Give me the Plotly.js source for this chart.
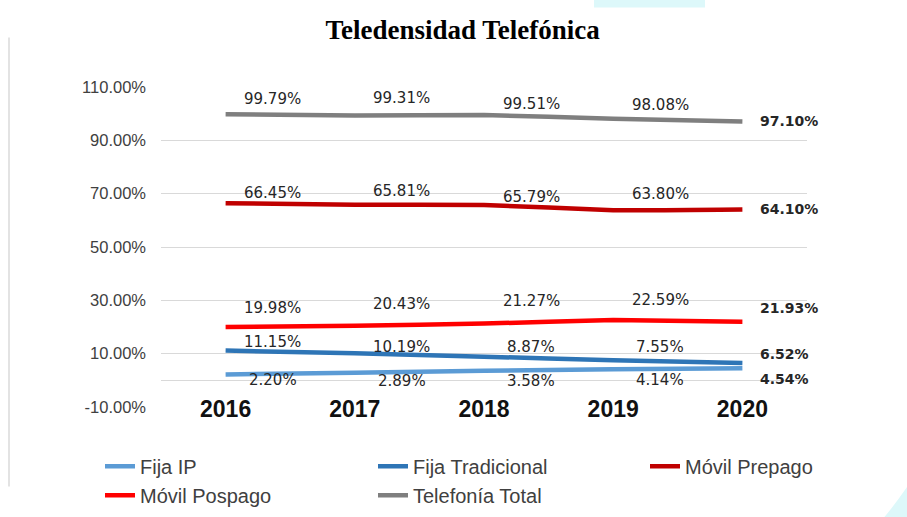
<!DOCTYPE html>
<html>
<head>
<meta charset="utf-8">
<script src="https://cdn.plot.ly/plotly-3.0.1.min.js"></script>
<style>html,body{margin:0;padding:0;background:#fff;}#chart{width:907px;height:517px;}</style>
</head>
<body>
<div id="chart"></div>
<script>
// ---- data ----
var years = ['2016', '2017', '2018', '2019', '2020'];
var fijaIP = [2.20, 2.89, 3.58, 4.14, 4.54];
var fijaTradicional = [11.15, 10.19, 8.87, 7.55, 6.52];
var movilPrepago = [66.45, 65.81, 65.79, 63.80, 64.10];
var movilPospago = [19.98, 20.43, 21.27, 22.59, 21.93];
var telefoniaTotal = [99.79, 99.31, 99.51, 98.08, 97.10];
var seriesNames = ['Fija IP', 'Fija Tradicional', 'Móvil Prepago', 'Móvil Pospago', 'Telefonía Total'];
var yTickVals = [-10, 10, 30, 50, 70, 90, 110];

// ---- style ----
var seriesValues = [fijaIP, fijaTradicional, movilPrepago, movilPospago, telefoniaTotal];
var colors = ['#5B9BD5', '#2E75B6', '#C00000', '#FF0000', '#7F7F7F'];
var legendIds = ['legend', 'legend2', 'legend3', 'legend', 'legend2'];
// label vertical shifts (px, up positive) for the first four points, and for the last one
var midShift = [[-6, -8, -10, -11], [9, 6, 10, 13], [10, 14, 8, 16], [19, 22, 23, 20], [15, 18, 11, 14]];
var endShift = [-11, 9, 0, 14, 0];

window.onerror = function (m) { document.body.insertAdjacentHTML('beforeend', '<pre>' + m + '</pre>'); };

var traces = seriesValues.map(function (vals, i) {
  return {
    type: 'scatter', mode: 'lines', x: years, y: vals, name: seriesNames[i],
    legend: legendIds[i], legendgroup: 'g' + i,
    line: {color: colors[i], width: 4.5, shape: 'spline', smoothing: 0.3}
  };
});

var annotations = [];
seriesValues.forEach(function (vals, i) {
  vals.forEach(function (v, j) {
    var last = j === vals.length - 1;
    annotations.push({
      x: j, y: v, xref: 'x', yref: 'y',
      text: last ? '<b>' + v.toFixed(2) + '%</b>' : v.toFixed(2) + '%',
      showarrow: false,
      xanchor: last ? 'left' : 'center', yanchor: 'middle',
      xshift: last ? 16 : 47,
      yshift: last ? endShift[i] : midShift[i][j],
      font: {family: 'DejaVu Sans', size: last ? 14 : 15, color: '#262626'}
    });
  });
});

function px2x(px) { return (px - 161) / 646; }
function px2y(py) { return (407.3 - py) / 320.6; }

var shapes = [
  {type: 'line', xref: 'paper', yref: 'paper', x0: px2x(9), x1: px2x(9), y0: px2y(37), y1: px2y(487),
   line: {color: '#E3E3E3', width: 2}},
  {type: 'rect', xref: 'paper', yref: 'paper', x0: px2x(594), x1: px2x(705), y0: px2y(7), y1: px2y(-2),
   line: {width: 0}, fillcolor: '#DDF8FA'},
  {type: 'path', xref: 'paper', yref: 'paper',
   path: 'M' + px2x(908) + ',' + px2y(486) + ' Q' + px2x(895) + ',' + px2y(505) + ' ' + px2x(884) + ',' + px2y(518) +
         ' L' + px2x(908) + ',' + px2y(518) + ' Z',
   line: {width: 0}, fillcolor: '#DDF8FA'}
];

function legendAt(xpx) {
  return {
    orientation: 'v', xref: 'container', yref: 'container', x: xpx / 907, y: 0.1357,
    xanchor: 'left', yanchor: 'top', traceorder: 'normal', tracegroupgap: 4,
    font: {family: 'Liberation Sans', size: 20, color: '#404040'}, bgcolor: 'rgba(0,0,0,0)'
  };
}

var layout = {
  width: 907, height: 517,
  margin: {l: 161, r: 100, t: 87, b: 110, autoexpand: false},
  paper_bgcolor: '#ffffff', plot_bgcolor: '#ffffff',
  title: {text: '<b>Teledensidad Telefónica</b>', x: 0.51, xanchor: 'center', y: 0.942, yanchor: 'middle',
          font: {family: 'Liberation Serif', size: 27, color: '#000000'}},
  xaxis: {
    type: 'category', range: [-0.5, 4.5], showgrid: false, zeroline: false, showline: false,
    ticks: '', ticklabelstandoff: -14, automargin: false,
    tickfont: {family: 'Liberation Sans', size: 23, color: '#111111', weight: 'bold'}
  },
  yaxis: {
    range: [-10, 110], tickvals: yTickVals, ticktext: yTickVals.map(function (v) { return v.toFixed(2) + '%'; }),
    showgrid: true, gridcolor: '#D9D9D9', gridwidth: 1, automargin: false,
    zeroline: true, zerolinecolor: '#D9D9D9', zerolinewidth: 1.5,
    showline: false, ticks: '', ticklabelstandoff: 14,
    tickfont: {family: 'Liberation Sans', size: 16.5, color: '#404040'}
  },
  showlegend: true,
  legend: legendAt(100),
  legend2: legendAt(373),
  legend3: legendAt(645),
  annotations: annotations,
  shapes: shapes
};

Plotly.newPlot('chart', traces, layout, {staticPlot: true, displayModeBar: false})
  .catch(function (e) { document.body.insertAdjacentHTML('beforeend', '<pre>' + e + '</pre>'); });
</script>
</body>
</html>
